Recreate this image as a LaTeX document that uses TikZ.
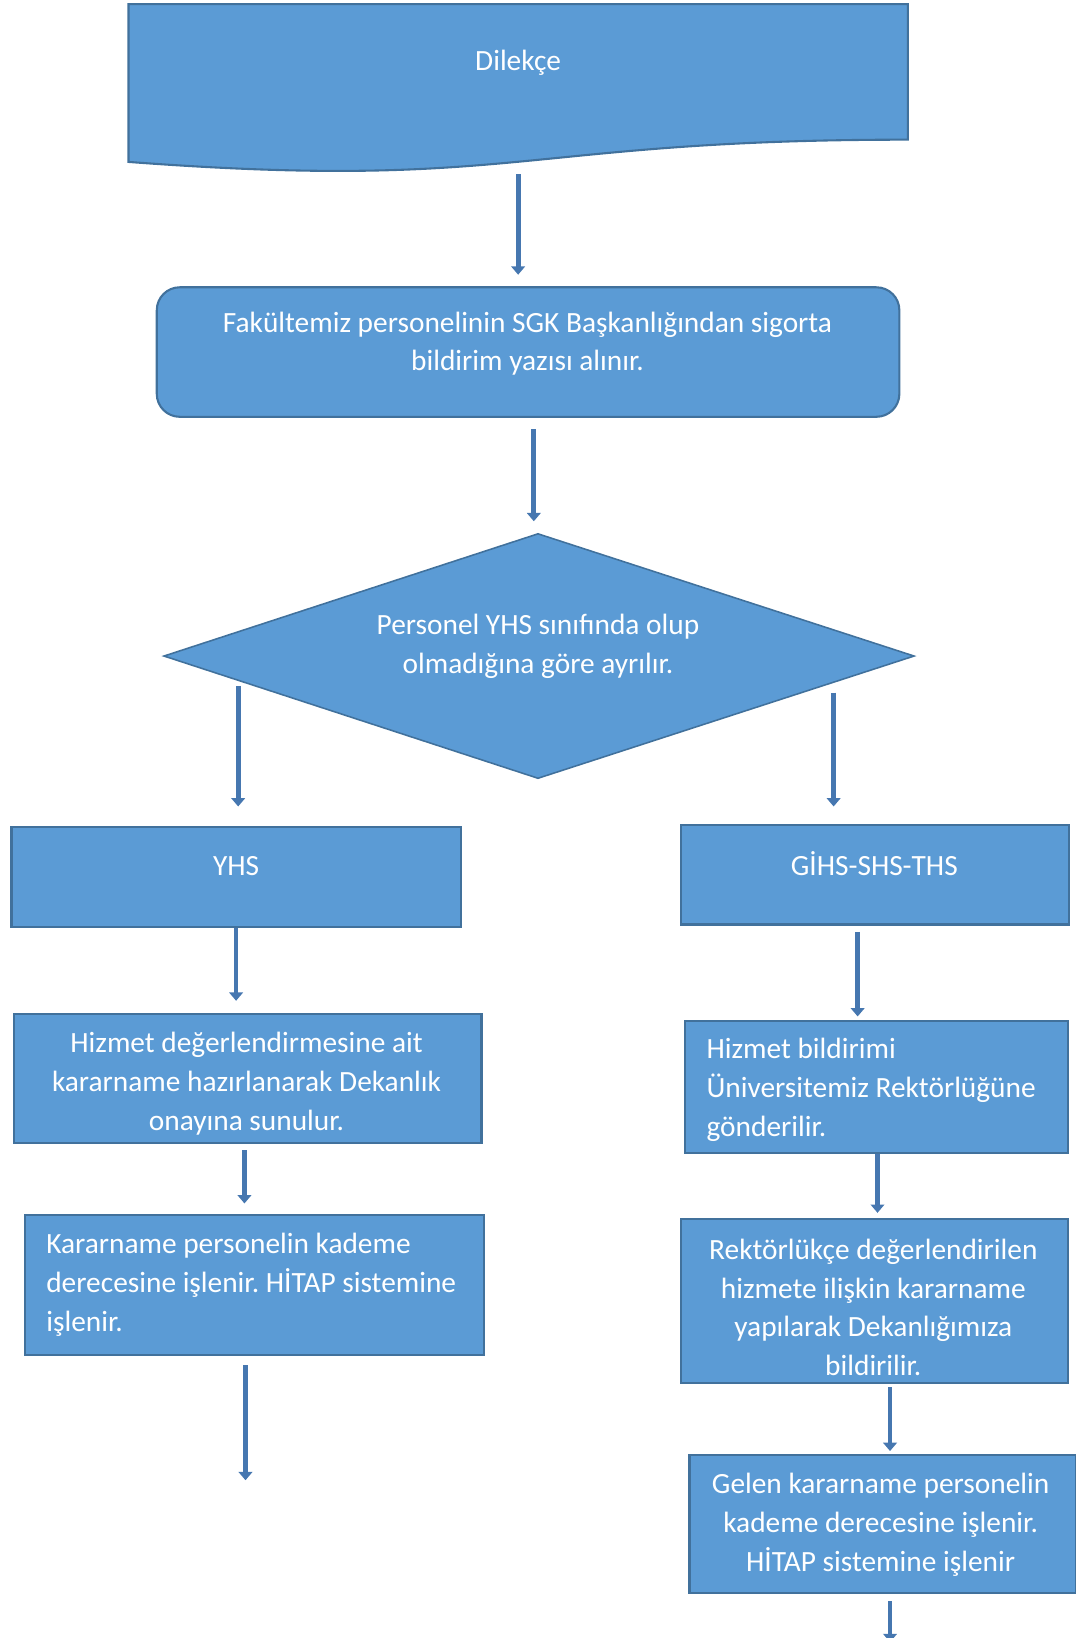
\documentclass[tikz,border=0pt]{standalone}
\usepackage{fontspec}
\setmainfont{Carlito}
\usetikzlibrary{arrows.meta}
\definecolor{boxfill}{HTML}{5B9BD5}
\definecolor{boxline}{HTML}{41719C}
\definecolor{arrcol}{HTML}{4677B0}
\tikzset{
  box/.style={draw=boxline, fill=boxfill, line width=0.04cm, rectangle, inner sep=0},
  txt/.style={text=white, font=\fontsize{16}{21.2}\selectfont\frenchspacing, align=center, inner sep=0},
  txtl/.style={txt, align=left, anchor=west},
  arr/.style={draw=arrcol, line width=0.09cm, -{Triangle[width=0.26cm,length=0.16cm]}}
}
\begin{document}
\begin{tikzpicture}[x=0.02cm,y=-0.02cm]
\useasboundingbox (0,0) rectangle (1030,1568);
% document shape
\path[draw=boxline, fill=boxfill, line width=0.04cm]
  (123,4) -- (869,4) -- (869,133.7) .. controls (496,133.7) and (496,183) .. (123,155) -- cycle;
\node[txt] (dil) at (496,60) {Dilekçe};
\coordinate (dil-b) at (496,167);
% rounded box
\node[box, rounded corners=0.44cm, minimum width=14.22cm, minimum height=2.48cm] (fak) at (505.5,337) {};
\node[txt] (fak-t) at (505,329) {Fakültemiz personelinin SGK Başkanlığından sigorta\\bildirim yazısı alınır.};
% diamond
\path[draw=boxline, fill=boxfill, line width=0.03cm]
  (515,511) coordinate (dt) -- (875,628) coordinate (dr) -- (515,745) coordinate (db) -- (157,628) coordinate (dl) -- cycle;
\node[txt] (dia-t) at (515,618.5) {Personel YHS sınıfında olup\\olmadığına göre ayrılır.};
\coordinate (dlo) at (228,657);
\coordinate (dro) at (798,663);
% left column
\node[box, minimum width=8.6cm, minimum height=1.9cm] (yhs) at (226,839.5) {};
\node[txt] (yhs-t) at (226,829) {YHS};
\node[box, minimum width=8.96cm, minimum height=2.46cm] (hiz1) at (237,1032.5) {};
\node[txt] (hiz1-t) at (236,1037.5) {Hizmet değerlendirmesine ait\\kararname hazırlanarak Dekanlık\\onayına sunulur.};
\node[box, minimum width=8.78cm, minimum height=2.68cm] (kar1) at (243.5,1230) {};
\node[txtl] (kar1-t) at (44,1230) {Kararname personelin kademe\\derecesine işlenir. HİTAP sistemine\\işlenir.};
\coordinate (k-end) at (235,1417);
% right column
\node[box, minimum width=7.42cm, minimum height=1.9cm] (gihs) at (837.5,837.5) {};
\node[txt] (gihs-t) at (837,827) {GİHS-SHS-THS};
\node[box, minimum width=7.32cm, minimum height=2.54cm] (hiz2) at (839,1040.5) {};
\node[txtl] (hiz2-t) at (676,1043.5) {Hizmet bildirimi\\Üniversitemiz Rektörlüğüne\\gönderilir.};
\node[box, minimum width=7.4cm, minimum height=3.14cm] (rek) at (837,1245.5) {};
\node[txt] (rek-t) at (836,1251.5) {Rektörlükçe değerlendirilen\\hizmete ilişkin kararname\\yapılarak Dekanlığımıza\\bildirilir.};
\node[box, minimum width=7.4cm, minimum height=2.64cm] (gel) at (845,1459) {};
\node[txt] (gel-t) at (843,1459.5) {Gelen kararname personelin\\kademe derecesine işlenir.\\HİTAP sistemine işlenir};
\coordinate (g-end) at (852,1572);
% arrows
\draw[arr, shorten >=0.22cm] (dil-b) -- (fak.north -| dil-b);
\draw[arr, shorten <=0.22cm, shorten >=0.24cm] (fak.south -| 511,0) -- (dt -| 511,0);
\draw[arr, shorten >=0.38cm] (dlo) -- (yhs.north -| dlo);
\draw[arr, shorten >=0.34cm] (dro) -- (gihs.north -| dro);
\draw[arr, shorten >=0.24cm] (yhs.south -| 226,0) -- (hiz1.north -| 226,0);
\draw[arr, shorten <=0.12cm, shorten >=0.06cm] (gihs.south -| 821,0) -- (hiz2.north -| 821,0);
\draw[arr, shorten <=0.12cm, shorten >=0.2cm] (hiz1.south -| 234,0) -- (kar1.north -| 234,0);
\draw[arr, shorten >=0.1cm] (hiz2.south -| 840,0) -- (rek.north -| 840,0);
\draw[arr, shorten <=0.18cm] (kar1.south -| k-end) -- (k-end);
\draw[arr, shorten <=0.06cm, shorten >=0.06cm] (rek.south -| 852,0) -- (gel.north -| 852,0);
\draw[arr, shorten <=0.14cm] (gel.south -| g-end) -- (g-end);
\end{tikzpicture}
\end{document}
